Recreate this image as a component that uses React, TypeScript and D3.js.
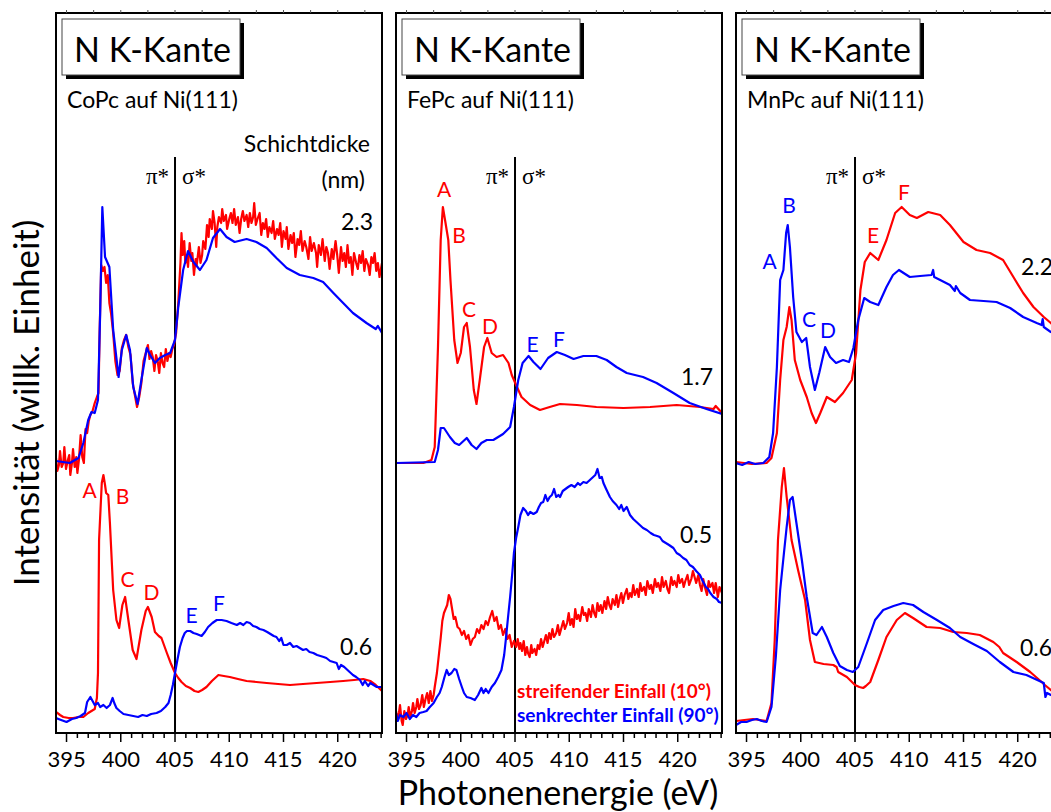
import React from 'react';
import * as d3 from 'd3';

type Pt = [number, number];

// ---------- axis / text content ----------
const X_TICKS = [395, 400, 405, 410, 415, 420];
const X_DOMAIN: [number, number] = [394.03, 424.08];
const Y_DOMAIN: [number, number] = [0, 720];
const EDGE = 405; // pi / sigma separator
const PANEL_TITLES = ['N K-Kante', 'N K-Kante', 'N K-Kante'];
const PANEL_SUBTITLES = ['CoPc auf Ni(111)', 'FePc auf Ni(111)', 'MnPc auf Ni(111)'];
const THICKNESS_LABELS = [['2.3', '0.6'], ['1.7', '0.5'], ['2.2', '0.6']];
const THICKNESS_POS: Pt[][] = [
  [[420.3, 503], [420.2, 78]],
  [[420.3, 348], [420.2, 190]],
  [[420.3, 458], [420.2, 77]],
];

// ---------- CoPc (panel 1) ----------
const coPcThickBlue: Pt[] = [
  [394.03, 272], [395.3, 270], [396.1, 275], [396.55, 290], [397.0, 313], [397.3, 321], [397.6, 320],
  [397.9, 333], [398.1, 420], [398.3, 526], [398.55, 476], [398.95, 466], [399.3, 403], [399.8, 356],
  [400.1, 383], [400.5, 398], [400.85, 383], [401.15, 346], [401.55, 329], [401.9, 353], [402.4, 385],
  [402.7, 378], [403.15, 370], [403.6, 375], [404.1, 378], [404.55, 380], [405.0, 393], [405.3, 426],
  [405.75, 463], [406.2, 482], [406.7, 471], [407.3, 463], [407.9, 473], [408.5, 495], [409.15, 504],
  [409.75, 496], [410.5, 491], [411.6, 494], [412.5, 491], [413.45, 485], [414.35, 475], [415.3, 465],
  [416.5, 458], [417.75, 455], [418.65, 451], [419.6, 440], [420.5, 430], [421.4, 420], [422.65, 410],
  [423.5, 404], [423.7, 407], [424.08, 400],
];
const coPcThickRed: Pt[] = [
  [394.03, 275], [394.15, 262], [394.3, 268], [394.4, 282], [394.55, 266], [394.7, 270], [394.8, 286],
  [394.95, 264], [395.1, 272], [395.25, 278], [395.35, 258], [395.5, 270], [395.6, 284], [395.75, 266],
  [395.9, 276], [396.0, 260], [396.15, 274], [396.3, 298], [396.45, 276], [396.6, 270], [396.75, 304],
  [396.9, 300], [397.05, 312], [397.2, 318], [397.4, 322], [397.6, 330], [397.8, 336], [397.95, 340],
  [398.05, 400], [398.2, 468], [398.35, 462], [398.5, 466], [398.65, 450], [398.8, 458], [398.95, 430],
  [399.1, 420], [399.3, 400], [399.5, 372], [399.7, 358], [399.9, 362], [400.1, 385], [400.3, 393],
  [400.5, 398], [400.7, 386], [400.9, 378], [401.1, 350], [401.3, 338], [401.5, 326], [401.7, 336],
  [401.9, 350], [402.1, 372], [402.3, 380], [402.5, 388], [402.65, 374], [402.8, 382], [402.95, 376],
  [403.1, 362], [403.25, 378], [403.4, 372], [403.55, 360], [403.7, 380], [403.85, 370], [404.0, 366],
  [404.15, 384], [404.3, 372], [404.45, 380], [404.6, 376], [404.75, 384], [404.9, 388], [405.1, 400],
  [405.3, 430], [405.5, 470], [405.6, 500], [405.7, 478], [405.85, 492], [405.95, 470], [406.1, 476],
  [406.2, 466], [406.35, 490], [406.5, 472], [406.6, 480], [406.75, 458], [406.9, 474], [407.0, 468],
  [407.2, 486], [407.35, 470], [407.5, 478], [407.6, 492], [407.8, 484], [407.95, 508], [408.1, 496],
  [408.2, 514], [408.4, 504], [408.5, 522], [408.65, 510], [408.8, 486], [408.9, 506], [409.05, 516],
  [409.25, 510], [409.35, 524], [409.5, 512], [409.7, 518], [409.8, 504], [410.0, 514], [410.15, 520],
  [410.3, 510], [410.45, 524], [410.6, 508], [410.8, 516], [410.95, 500], [411.1, 514], [411.25, 522],
  [411.4, 512], [411.6, 518], [411.75, 506], [411.9, 520], [412.05, 510], [412.2, 516], [412.3, 530],
  [412.45, 508], [412.6, 514], [412.8, 520], [412.95, 498], [413.1, 510], [413.25, 504], [413.4, 514],
  [413.55, 496], [413.7, 506], [413.9, 500], [414.05, 512], [414.2, 494], [414.4, 504], [414.55, 498],
  [414.7, 510], [414.85, 486], [415.0, 502], [415.2, 494], [415.3, 506], [415.45, 484], [415.65, 498],
  [415.8, 490], [415.95, 500], [416.1, 476], [416.3, 494], [416.45, 488], [416.6, 502], [416.75, 482],
  [416.95, 492], [417.1, 486], [417.3, 474], [417.45, 496], [417.6, 482], [417.8, 490], [418.0, 480],
  [418.1, 466], [418.25, 488], [418.45, 478], [418.6, 494], [418.8, 472], [418.95, 486], [419.1, 480],
  [419.25, 464], [419.45, 484], [419.6, 474], [419.8, 492], [419.95, 478], [420.1, 460], [420.3, 486],
  [420.45, 472], [420.6, 480], [420.75, 466], [420.9, 488], [421.05, 470], [421.2, 476], [421.35, 458],
  [421.5, 480], [421.7, 470], [421.85, 464], [422.0, 478], [422.15, 470], [422.3, 482], [422.45, 462],
  [422.6, 474], [422.8, 468], [422.95, 458], [423.1, 476], [423.25, 470], [423.4, 480], [423.55, 462],
  [423.7, 470], [423.85, 456], [424.08, 470],
];
const coPcThinRed: Pt[] = [
  [394.03, 21], [394.4, 18], [394.7, 16], [395.2, 15], [395.6, 15], [396.1, 16], [396.55, 16], [397.0, 20],
  [397.3, 22], [397.6, 24], [397.8, 35], [397.9, 60], [398.0, 193], [398.25, 250], [398.4, 258],
  [398.55, 248], [398.65, 240], [398.85, 238], [399.0, 210], [399.3, 143], [399.6, 113], [399.85, 105],
  [400.15, 128], [400.4, 136], [400.7, 113], [401.1, 83], [401.45, 74], [401.9, 103], [402.3, 122],
  [402.5, 126], [402.85, 116], [403.15, 101], [403.5, 97], [403.75, 95], [404.25, 80], [404.6, 70],
  [405.0, 60], [405.3, 55], [405.6, 51], [406.0, 47], [406.4, 45], [406.8, 42], [407.15, 41], [407.5, 43],
  [407.9, 46], [408.4, 52], [409.0, 58], [409.5, 57], [410.05, 56], [410.8, 54], [411.6, 52], [412.5, 51],
  [413.45, 50], [414.5, 49], [415.6, 48], [416.8, 49], [418.05, 50], [419.3, 51], [420.5, 52], [421.5, 53],
  [422.35, 54], [423.0, 52], [423.5, 48], [424.08, 42],
];
const coPcThinBlue: Pt[] = [
  [394.03, 15], [394.5, 13], [395.0, 11], [395.5, 14], [395.9, 15], [396.3, 17], [396.7, 20], [396.9, 31],
  [397.2, 36], [397.4, 32], [397.6, 28], [397.9, 30], [398.1, 26], [398.4, 28], [398.7, 25], [399.0, 28],
  [399.25, 35], [399.4, 30], [399.6, 25], [399.9, 22], [400.25, 19], [400.7, 18], [401.15, 17], [401.6, 16],
  [402.0, 18], [402.4, 17], [402.8, 19], [403.3, 20], [403.7, 22], [404.1, 26], [404.4, 30], [404.6, 38],
  [404.8, 48], [405.0, 60], [405.2, 72], [405.45, 86], [405.7, 95], [405.9, 100], [406.1, 102], [406.4, 102],
  [406.7, 100], [407.0, 99], [407.45, 97], [407.75, 101], [408.05, 106], [408.45, 110], [408.85, 113],
  [409.3, 113], [409.75, 112], [410.2, 110], [410.7, 108], [411.0, 110], [411.3, 108], [411.6, 111],
  [411.9, 110], [412.2, 107], [412.5, 106], [412.8, 104], [413.15, 103], [413.5, 101], [413.8, 99],
  [414.1, 97], [414.35, 96], [414.6, 92], [414.8, 95], [415.0, 88], [415.3, 88], [415.6, 90], [415.9, 86],
  [416.2, 87], [416.5, 85], [416.8, 83], [417.1, 84], [417.4, 81], [417.75, 80], [418.1, 78], [418.4, 77],
  [418.7, 76], [418.95, 75], [419.3, 72], [419.6, 71], [419.9, 70], [420.1, 64], [420.3, 68], [420.6, 66],
  [420.9, 63], [421.1, 61], [421.4, 58], [421.7, 56], [422.05, 53], [422.3, 48], [422.5, 52], [422.8, 47],
  [423.0, 50], [423.3, 48], [423.6, 46], [424.08, 46],
];

// ---------- FePc (panel 2) ----------
const fePcThickRed: Pt[] = [
  [394.03, 270], [396.55, 270], [397.3, 273], [397.6, 286], [397.9, 386], [398.15, 493], [398.35, 526],
  [398.55, 513], [398.85, 493], [399.05, 453], [399.4, 393], [399.7, 370], [400.0, 380], [400.3, 406],
  [400.55, 410], [400.85, 386], [401.2, 343], [401.45, 329], [401.75, 353], [402.15, 386], [402.45, 395],
  [402.85, 380], [403.3, 376], [403.9, 378], [404.4, 370], [404.7, 358], [405.1, 348], [405.6, 336],
  [406.4, 328], [407.3, 323], [408.2, 326], [409.15, 329], [410.7, 328], [412.5, 326], [415.0, 325],
  [417.45, 326], [419.9, 328], [422.05, 326], [423.3, 324], [423.5, 327], [424.08, 320],
];
const fePcThickBlue: Pt[] = [
  [394.03, 270], [397.6, 271], [397.9, 283], [398.15, 305], [398.45, 305], [399.0, 296], [399.45, 290],
  [399.85, 288], [400.55, 295], [401.0, 288], [401.45, 284], [401.9, 290], [402.4, 293], [403.0, 293],
  [403.9, 299], [404.55, 306], [404.9, 326], [405.3, 353], [405.7, 370], [406.25, 377], [406.7, 371],
  [407.35, 364], [408.05, 375], [408.85, 381], [409.6, 378], [410.4, 374], [411.3, 377], [412.5, 377],
  [413.45, 373], [414.35, 366], [415.3, 360], [416.8, 356], [418.05, 350], [419.6, 340], [421.1, 330],
  [422.65, 324], [424.08, 319],
];
const fePcThinBlue: Pt[] = [
  [394.03, 20], [394.2, 12], [394.4, 18], [394.7, 16], [395.0, 20], [395.3, 14], [395.6, 18], [395.9, 16],
  [396.2, 20], [396.55, 21], [396.85, 22], [397.15, 26], [397.5, 30], [397.8, 36], [398.05, 40], [398.25, 46],
  [398.5, 56], [398.7, 63], [398.9, 58], [399.15, 60], [399.4, 64], [399.6, 63], [399.85, 54], [400.1, 46],
  [400.3, 40], [400.55, 36], [400.9, 35], [401.3, 33], [401.6, 38], [401.9, 45], [402.1, 40], [402.3, 44],
  [402.55, 40], [402.85, 46], [403.15, 50], [403.45, 56], [403.75, 63], [404.0, 78], [404.15, 93],
  [404.35, 115], [404.55, 136], [404.75, 160], [404.9, 180], [405.1, 195], [405.3, 206], [405.5, 218],
  [405.75, 225], [406.0, 222], [406.2, 218], [406.4, 221], [406.7, 219], [407.0, 221], [407.2, 226],
  [407.4, 230], [407.6, 231], [407.8, 238], [408.0, 232], [408.2, 236], [408.4, 238], [408.6, 244],
  [408.8, 236], [409.0, 238], [409.15, 236], [409.4, 242], [409.65, 244], [409.9, 246], [410.2, 248],
  [410.5, 246], [410.8, 250], [411.0, 248], [411.3, 251], [411.6, 250], [411.9, 253], [412.2, 256],
  [412.4, 258], [412.6, 264], [412.8, 255], [413.0, 256], [413.15, 250], [413.4, 244], [413.75, 236],
  [414.0, 232], [414.35, 228], [414.6, 224], [414.8, 228], [415.0, 222], [415.3, 226], [415.6, 218],
  [415.9, 214], [416.2, 211], [416.5, 208], [416.8, 205], [417.15, 203], [417.5, 200], [417.8, 198],
  [418.1, 197], [418.35, 196], [418.6, 192], [418.9, 190], [419.2, 188], [419.6, 185], [419.9, 180],
  [420.2, 178], [420.5, 175], [420.8, 173], [421.1, 168], [421.4, 166], [421.7, 162], [422.05, 158],
  [422.3, 152], [422.6, 146], [422.8, 144], [423.0, 140], [423.3, 136], [423.6, 134], [423.8, 131],
  [424.08, 130],
];
const fePcThinRed: Pt[] = [
  [394.03, 22], [394.15, 14], [394.3, 20], [394.4, 28], [394.55, 12], [394.65, 8], [394.8, 22], [394.95, 14],
  [395.1, 18], [395.2, 26], [395.35, 16], [395.5, 22], [395.6, 30], [395.75, 20], [395.9, 26], [396.0, 34],
  [396.15, 24], [396.3, 28], [396.45, 38], [396.6, 26], [396.75, 34], [396.9, 40], [397.05, 30], [397.2, 42],
  [397.35, 32], [397.5, 38], [397.6, 46], [397.8, 60], [398.0, 80], [398.15, 95], [398.3, 112], [398.45, 120],
  [398.6, 124], [398.75, 128], [398.9, 138], [399.05, 134], [399.2, 124], [399.35, 114], [399.5, 116],
  [399.7, 106], [399.9, 104], [400.1, 98], [400.3, 102], [400.5, 94], [400.7, 98], [400.9, 88], [401.1, 94],
  [401.3, 96], [401.5, 104], [401.7, 100], [401.9, 108], [402.1, 104], [402.3, 112], [402.5, 108],
  [402.7, 116], [402.9, 122], [403.1, 112], [403.3, 116], [403.5, 104], [403.7, 108], [403.9, 98],
  [404.1, 104], [404.3, 94], [404.5, 98], [404.7, 86], [404.9, 92], [405.1, 86], [405.25, 94], [405.4, 84],
  [405.5, 90], [405.65, 82], [405.8, 92], [405.95, 78], [406.1, 86], [406.2, 80], [406.35, 76], [406.5, 88],
  [406.6, 80], [406.8, 84], [406.95, 78], [407.1, 88], [407.25, 84], [407.4, 94], [407.55, 86], [407.7, 92],
  [407.85, 98], [408.0, 90], [408.15, 100], [408.3, 94], [408.45, 104], [408.6, 96], [408.8, 100],
  [408.95, 108], [409.1, 98], [409.3, 106], [409.45, 112], [409.6, 104], [409.8, 110], [409.95, 120],
  [410.1, 108], [410.25, 114], [410.4, 106], [410.55, 124], [410.7, 114], [410.85, 118], [411.0, 112],
  [411.2, 126], [411.35, 118], [411.5, 120], [411.65, 112], [411.8, 124], [412.0, 116], [412.15, 128],
  [412.3, 120], [412.45, 116], [412.6, 130], [412.75, 122], [412.9, 128], [413.05, 120], [413.25, 132],
  [413.4, 124], [413.55, 136], [413.7, 128], [413.85, 124], [414.0, 134], [414.2, 128], [414.35, 138],
  [414.5, 126], [414.65, 134], [414.8, 140], [414.95, 130], [415.1, 138], [415.3, 144], [415.45, 134],
  [415.6, 140], [415.75, 136], [415.9, 148], [416.05, 138], [416.25, 144], [416.4, 136], [416.55, 150],
  [416.7, 142], [416.9, 146], [417.05, 138], [417.2, 152], [417.4, 144], [417.55, 148], [417.7, 140],
  [417.9, 154], [418.05, 146], [418.2, 150], [418.4, 142], [418.55, 156], [418.7, 146], [418.9, 152],
  [419.05, 144], [419.2, 140], [419.4, 156], [419.55, 148], [419.7, 152], [419.9, 146], [420.05, 158],
  [420.2, 150], [420.4, 154], [420.55, 146], [420.7, 152], [420.9, 158], [421.05, 148], [421.25, 154],
  [421.4, 162], [421.55, 156], [421.7, 150], [421.9, 158], [422.05, 148], [422.2, 142], [422.35, 154],
  [422.5, 146], [422.7, 138], [422.85, 152], [423.0, 146], [423.2, 150], [423.35, 140], [423.5, 150],
  [423.7, 136], [423.85, 146], [424.08, 140],
];

// ---------- MnPc (panel 3) ----------
const mnPcThickBlue: Pt[] = [
  [394.03, 270], [394.6, 268], [395.2, 271], [395.8, 269], [396.55, 270], [397.1, 276], [397.45, 300],
  [397.8, 366], [398.1, 453], [398.4, 463], [398.65, 500], [398.8, 508], [399.0, 486], [399.3, 436],
  [399.6, 401], [400.1, 391], [400.5, 395], [400.85, 366], [401.3, 343], [401.7, 360], [402.25, 386],
  [402.7, 376], [403.25, 370], [403.9, 373], [404.45, 371], [404.85, 385], [405.3, 413], [405.85, 435],
  [406.4, 431], [407.15, 428], [407.9, 446], [408.5, 458], [409.05, 463], [410.05, 456], [411.0, 457],
  [412.05, 458], [412.2, 463], [412.3, 456], [412.85, 453], [413.75, 448], [414.2, 442], [414.3, 447],
  [414.7, 440], [415.6, 433], [416.85, 432], [418.05, 431], [419.3, 425], [420.5, 416], [421.75, 410],
  [422.2, 408], [422.3, 414], [422.4, 406], [423.05, 401], [424.08, 397],
];
const mnPcThickRed: Pt[] = [
  [394.03, 271], [395.5, 269], [396.85, 270], [397.3, 275], [397.8, 300], [398.1, 353], [398.4, 393],
  [398.7, 406], [398.95, 426], [399.15, 413], [399.45, 373], [399.95, 353], [400.55, 336], [401.0, 320],
  [401.4, 310], [401.8, 320], [402.4, 336], [403.15, 331], [403.9, 340], [404.7, 353], [405.1, 380],
  [405.5, 443], [405.9, 471], [406.4, 480], [407.15, 473], [407.9, 493], [408.7, 520], [409.3, 526],
  [410.05, 518], [410.7, 515], [411.75, 521], [412.85, 518], [413.75, 508], [415.0, 491], [416.2, 483],
  [417.45, 480], [418.65, 473], [419.6, 456], [420.5, 440], [421.45, 426], [422.4, 416], [423.05, 410],
  [424.08, 400],
];
const mnPcThinRed: Pt[] = [
  [394.03, 12], [394.8, 13], [395.6, 14], [396.2, 13], [396.85, 12], [397.3, 30], [397.6, 93], [397.9, 193],
  [398.25, 246], [398.45, 265], [398.7, 236], [399.15, 193], [399.75, 163], [400.4, 133], [400.85, 93],
  [401.3, 71], [402.1, 69], [403.0, 68], [403.3, 66], [403.45, 61], [404.25, 56], [405.0, 48], [405.4, 46],
  [405.75, 45], [406.0, 47], [406.4, 51], [407.15, 73], [407.9, 96], [408.85, 113], [409.6, 120],
  [410.35, 115], [411.6, 106], [412.85, 105], [414.05, 101], [415.3, 100], [416.5, 98], [417.75, 91],
  [418.3, 86], [418.65, 80], [419.9, 71], [421.15, 61], [422.1, 52], [422.5, 48], [423.05, 43],
  [424.08, 36],
];
const mnPcThinBlue: Pt[] = [
  [394.03, 8], [394.5, 11], [395.0, 11], [395.5, 13], [395.95, 14], [396.4, 12], [396.85, 11], [397.3, 26],
  [397.7, 76], [398.1, 143], [398.45, 180], [398.7, 206], [399.0, 233], [399.25, 236], [399.6, 210],
  [400.1, 173], [400.55, 136], [401.1, 100], [401.45, 98], [401.95, 106], [402.4, 96], [403.0, 80],
  [403.6, 67], [404.25, 63], [404.8, 61], [405.3, 66], [406.1, 90], [406.85, 113], [407.6, 123],
  [408.55, 127], [409.45, 130], [410.35, 128], [411.3, 121], [412.55, 113], [413.75, 105], [414.7, 96],
  [415.9, 89], [417.15, 82], [418.35, 71], [419.6, 61], [420.8, 58], [421.6, 54], [422.4, 50],
  [422.55, 36], [422.7, 40], [423.05, 38], [424.08, 36],
];

// ---------- peak letters (energy, intensity) ----------
type PeakLabel = { t: string; e: number; v: number; c: string };
const RED = '#ff0000';
const BLUE = '#0000ff';
const coPcPeaks: PeakLabel[] = [
  { t: 'A', e: 397.12, v: 235, c: RED }, { t: 'B', e: 400.16, v: 229, c: RED },
  { t: 'C', e: 400.62, v: 146, c: RED }, { t: 'D', e: 402.83, v: 133, c: RED },
  { t: 'E', e: 406.52, v: 110, c: BLUE }, { t: 'F', e: 409.06, v: 122, c: BLUE },
];
const fePcPeaks: PeakLabel[] = [
  { t: 'A', e: 398.46, v: 536, c: RED }, { t: 'B', e: 399.84, v: 490, c: RED },
  { t: 'C', e: 400.76, v: 416, c: RED }, { t: 'D', e: 402.70, v: 399, c: RED },
  { t: 'E', e: 406.61, v: 381, c: BLUE }, { t: 'F', e: 409.06, v: 386, c: BLUE },
];
const mnPcPeaks: PeakLabel[] = [
  { t: 'A', e: 397.12, v: 464, c: BLUE }, { t: 'B', e: 398.92, v: 520, c: BLUE },
  { t: 'C', e: 400.76, v: 406, c: BLUE }, { t: 'D', e: 402.51, v: 395, c: BLUE },
  { t: 'E', e: 406.66, v: 490, c: RED }, { t: 'F', e: 409.52, v: 533, c: RED },
];

const PANELS = [
  { series: [[coPcThinRed, RED], [coPcThinBlue, BLUE], [coPcThickRed, RED], [coPcThickBlue, BLUE]], peaks: coPcPeaks },
  { series: [[fePcThickRed, RED], [fePcThickBlue, BLUE], [fePcThinRed, RED], [fePcThinBlue, BLUE]], peaks: fePcPeaks },
  { series: [[mnPcThickRed, RED], [mnPcThickBlue, BLUE], [mnPcThinRed, RED], [mnPcThinBlue, BLUE]], peaks: mnPcPeaks },
] as { series: [Pt[], string][]; peaks: PeakLabel[] }[];

const LEGEND = [
  { t: 'streifender Einfall (10°)', c: RED },
  { t: 'senkrechter Einfall (90°)', c: BLUE },
];

const FONT = "Lato, 'Open Sans', sans-serif";
const SERIF = "'Liberation Serif', 'DejaVu Serif', serif";
const W = 1051;
const H = 812;
const PANEL_LEFTS = [56, 396, 736];
const PANEL_W = 326;
const TOP = 13;
const BOTTOM = 733;

function Panel({ idx }: { idx: number }) {
  const left = PANEL_LEFTS[idx];
  const p = PANELS[idx];
  const x = d3.scaleLinear().domain(X_DOMAIN).range([left, left + PANEL_W]);
  const y = d3.scaleLinear().domain(Y_DOMAIN).range([BOTTOM, TOP]);
  const line = d3.line<Pt>().x((d) => x(d[0])).y((d) => y(d[1]));
  const minor = d3.range(395, 425, 1);
  const topTicks = d3.range(395, 425, 2.5);
  const clipId = `clip${idx}`;
  const ex = x(EDGE);
  return (
    <g>
      <defs>
        <clipPath id={clipId}>
          <rect x={left} y={TOP} width={PANEL_W} height={BOTTOM - TOP} />
        </clipPath>
      </defs>
      {/* title box */}
      <rect x={left + 10} y={23} width={178} height={56} fill="#000" />
      <rect x={left + 6} y={19} width={178} height={56} fill="#fff" stroke="#444" strokeWidth={1} />
      <text x={left + 18} y={62} fontFamily={FONT} fontSize={34} fill="#000">{PANEL_TITLES[idx]}</text>
      <text x={left + 11} y={108} fontFamily={FONT} fontSize={23} fill="#000">{PANEL_SUBTITLES[idx]}</text>
      {idx === 0 && (
        <g fontFamily={FONT} fontSize={23} fill="#000" textAnchor="end">
          <text x={left + 314} y={152}>Schichtdicke</text>
          <text x={left + 309} y={188}>(nm)</text>
        </g>
      )}
      {/* separator between pi and sigma regions */}
      <line x1={ex} x2={ex} y1={157} y2={BOTTOM} stroke="#000" strokeWidth={2} />
      <text x={ex - 6} y={184} textAnchor="end" fontFamily={SERIF} fontSize={23}>π*</text>
      <text x={ex + 7} y={184} fontFamily={SERIF} fontSize={23}>σ*</text>
      {/* curves */}
      <g clipPath={`url(#${clipId})`}>
        {p.series.map(([data, color], i) => (
          <path key={i} d={line(data) || ''} fill="none" stroke={color} strokeWidth={2.2} strokeLinejoin="round" />
        ))}
      </g>
      {/* peak letters */}
      {p.peaks.map((pk, i) => (
        <text key={i} x={x(pk.e)} y={y(pk.v)} textAnchor="middle" fontFamily={FONT} fontSize={21} fill={pk.c}>{pk.t}</text>
      ))}
      {/* thickness labels */}
      {THICKNESS_LABELS[idx].map((t, i) => (
        <text key={i} x={x(THICKNESS_POS[idx][i][0])} y={y(THICKNESS_POS[idx][i][1])} fontFamily={FONT} fontSize={23} fill="#000">{t}</text>
      ))}
      {idx === 1 && (
        <g fontFamily={FONT} fontSize={19} fontWeight="bold">
          {LEGEND.map((l, i) => (
            <text key={i} x={ex + 2} y={698 + i * 24} fill={l.c}>{l.t}</text>
          ))}
        </g>
      )}
      {/* frame */}
      <rect x={left} y={TOP} width={PANEL_W} height={BOTTOM - TOP} fill="none" stroke="#000" strokeWidth={2} />
      {/* ticks */}
      {minor.map((m) => (
        <line key={`m${m}`} x1={x(m)} x2={x(m)} y1={BOTTOM} y2={BOTTOM + (X_TICKS.includes(m) ? 9 : 5)} stroke="#000" strokeWidth={1.5} />
      ))}
      {topTicks.map((m) => (
        <line key={`t${m}`} x1={x(m)} x2={x(m)} y1={TOP} y2={TOP - 3} stroke="#555" strokeWidth={1} />
      ))}
      {X_TICKS.map((t) => (
        <text key={`l${t}`} x={x(t)} y={767} textAnchor="middle" fontFamily={FONT} fontSize={22} fill="#000">{t}</text>
      ))}
    </g>
  );
}

export default function App() {
  return (
    <svg width={W} height={H} style={{ position: 'absolute', left: 0, top: 0, background: '#fff' }}>
      <rect x={0} y={0} width={W} height={H} fill="#fff" />
      {[0, 1, 2].map((i) => <Panel key={i} idx={i} />)}
      <text transform="translate(39,403) rotate(-90)" textAnchor="middle" fontFamily={FONT} fontSize={35} fill="#000">
        Intensität (willk. Einheit)
      </text>
      <text x={558} y={805} textAnchor="middle" fontFamily={FONT} fontSize={34} fill="#000">
        Photonenenergie (eV)
      </text>
    </svg>
  );
}
